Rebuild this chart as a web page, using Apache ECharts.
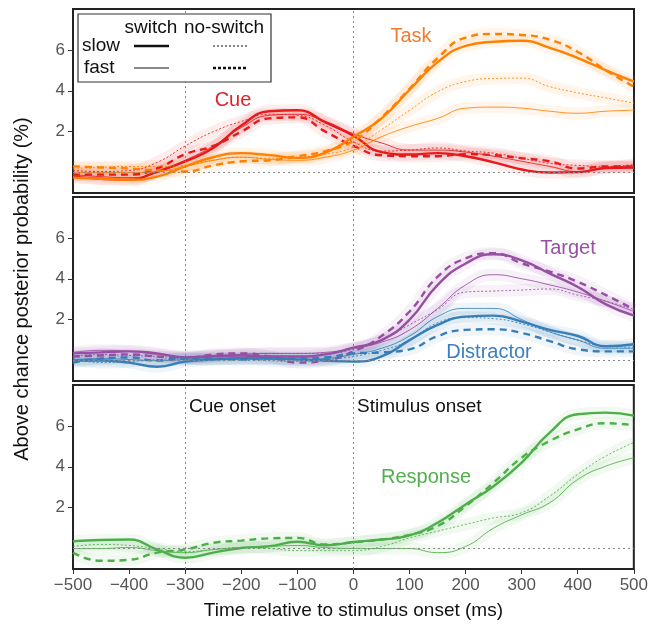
<!DOCTYPE html>
<html><head><meta charset="utf-8">
<script src="https://cdn.jsdelivr.net/npm/echarts@6/dist/echarts.min.js"></script>
<style>html,body{margin:0;padding:0;background:#fff}#c{width:651px;height:625px}</style>
</head><body><div id="c"></div>
<script>
const times = [-500,-450,-400,-350,-300,-250,-200,-150,-100,-50,0,50,100,150,200,250,300,350,400,450,500];
const xTicks = [-500,-400,-300,-200,-100,0,100,200,300,400,500];
const yTicks = [2,4,6];

// Cue
const cueSlowSwitch   = [-0.2,-0.3,-0.35,0.05,0.55,1.2,2.3,3.0,3.05,2.45,1.8,1.0,0.88,0.95,0.8,0.5,0.15,0.0,0.02,0.22,0.25];
const cueFastSwitch   = [-0.1,-0.2,-0.25,0.0,0.6,1.3,2.2,2.8,2.85,2.5,1.9,1.45,1.1,1.1,1.0,0.8,0.55,0.3,0.05,0.25,0.3];
const cueSlowNoSwitch = [0.1,0.05,0.1,0.5,1.3,2.0,2.5,2.85,2.8,2.3,1.5,1.05,1.1,1.2,1.05,0.95,0.7,0.45,0.35,0.3,0.4];
const cueFastNoSwitch = [-0.1,-0.1,-0.1,0.2,0.9,1.3,2.0,2.65,2.7,2.0,1.3,0.85,0.8,0.8,0.9,0.85,0.7,0.55,0.2,0.3,0.3];
// Task
const taskSlowSwitch   = [-0.25,-0.3,-0.35,-0.2,0.3,0.75,0.95,0.85,0.72,0.97,1.75,2.65,4.05,5.4,6.2,6.4,6.45,6.1,5.6,5.0,4.45];
const taskFastSwitch   = [0.0,0.0,0.0,0.05,0.3,0.6,0.75,0.65,0.6,0.75,1.1,1.75,2.25,2.65,3.15,3.2,3.15,3.0,2.9,3.0,3.05];
const taskSlowNoSwitch = [0.2,0.25,0.3,0.3,0.35,0.6,0.75,0.7,0.75,0.9,1.25,2.1,3.05,3.95,4.45,4.6,4.62,4.2,3.9,3.65,3.4];
const taskFastNoSwitch = [0.3,0.25,0.2,0.1,0.05,0.35,0.55,0.6,0.8,1.05,1.55,2.7,4.1,5.6,6.6,6.78,6.73,6.5,5.9,5.0,4.2];
// Target
const targetSlowSwitch   = [0.35,0.4,0.45,0.35,0.15,0.2,0.25,0.2,0.2,0.3,0.63,1.0,2.0,3.7,4.75,5.2,4.9,4.25,3.6,2.75,2.2];
const targetFastSwitch   = [0.4,0.5,0.45,0.3,0.2,0.25,0.3,0.35,0.35,0.4,0.6,0.9,1.5,2.55,3.7,4.2,4.0,3.7,3.35,2.9,2.4];
const targetSlowNoSwitch = [0.2,0.3,0.25,0.2,0.15,0.2,0.3,0.35,0.35,0.35,0.55,1.0,1.75,2.5,3.35,3.4,3.45,3.5,3.2,2.9,2.5];
const targetFastNoSwitch = [0.2,0.25,0.3,0.2,0.1,0.3,0.35,0.2,-0.1,0.0,0.45,1.2,2.4,4.1,5.0,5.25,4.75,4.35,3.85,3.2,2.5];
// Distractor
const distSlowSwitch   = [0.0,0.0,-0.1,-0.3,-0.05,0.05,0.1,0.1,0.05,0.0,-0.05,0.2,1.0,1.75,2.15,2.2,1.9,1.5,1.2,0.7,0.8];
const distFastSwitch   = [0.05,0.1,0.05,0.0,0.05,0.1,0.15,0.1,0.05,0.1,0.3,0.6,1.2,2.15,2.55,2.55,2.0,1.4,1.0,0.6,0.6];
const distSlowNoSwitch = [0.1,-0.1,-0.05,0.05,0.1,0.05,0.1,0.0,-0.05,0.05,0.2,0.5,1.0,1.85,2.1,2.05,1.8,1.4,1.0,0.7,0.65];
const distFastNoSwitch = [-0.1,0.1,0.15,0.0,0.1,0.1,0.05,0.1,0.1,0.15,0.35,0.4,0.55,1.2,1.5,1.53,1.35,0.95,0.55,0.45,0.45];
// Response
const respSlowSwitch   = [0.36,0.42,0.44,-0.05,-0.45,-0.2,0.03,0.11,0.33,0.16,0.32,0.44,0.64,1.26,2.16,3.05,4.2,5.67,6.57,6.65,6.5];
const respFastSwitch   = [0.0,0.0,0.05,-0.1,-0.2,-0.05,0.05,0.1,0.15,0.05,0.0,0.0,0.0,-0.2,0.1,1.0,1.65,2.24,3.38,4.03,4.44];
const respSlowNoSwitch = [0.1,0.2,0.15,0.0,-0.15,-0.05,0.05,0.0,-0.1,-0.1,-0.1,0.1,0.52,0.85,1.18,1.5,1.75,2.56,3.63,4.52,5.18];
const respFastNoSwitch = [-0.2,-0.6,-0.55,-0.2,-0.05,0.28,0.39,0.5,0.52,0.2,0.3,0.44,0.67,1.1,2.07,3.22,4.44,5.26,5.83,6.13,6.03];

const C = {cue:'#e41a1c', task:'#ff7f00', target:'#984ea3', dist:'#377eb8', resp:'#4daf4a'};

const styles = {
  slowSwitch:   {width:2.4, type:'solid', opacity:1},
  fastSwitch:   {width:1,   type:'solid', opacity:0.85},
  slowNoSwitch: {width:1,   type:[2,2], opacity:0.85},
  fastNoSwitch: {width:2.4, type:[7,5], opacity:1}
};

const panels = [
  [[cueSlowSwitch,cueFastSwitch,cueSlowNoSwitch,cueFastNoSwitch,C.cue],
   [taskSlowSwitch,taskFastSwitch,taskSlowNoSwitch,taskFastNoSwitch,C.task]],
  [[targetSlowSwitch,targetFastSwitch,targetSlowNoSwitch,targetFastNoSwitch,C.target],
   [distSlowSwitch,distFastSwitch,distSlowNoSwitch,distFastNoSwitch,C.dist]],
  [[respSlowSwitch,respFastSwitch,respSlowNoSwitch,respFastNoSwitch,C.resp]]
];

const keys = ['slowSwitch','fastSwitch','slowNoSwitch','fastNoSwitch'];
const series = [];
panels.forEach((groups, gi) => {
  series.push({
    type:'line', xAxisIndex:gi, yAxisIndex:gi, data:[], silent:true,
    markLine:{silent:true, symbol:'none', label:{show:false},
      lineStyle:{color:'#888', type:[2,3], width:1},
      data:[{xAxis:-300},{xAxis:0},{yAxis:0}]}
  });
  groups.forEach(g => {
    const color = g[4];
    keys.forEach((k, ki) => {
      const d = times.map((t,i)=>[t,g[ki][i]]);
      series.push({type:'line', xAxisIndex:gi, yAxisIndex:gi, data:d, smooth:0.5, symbol:'none', silent:true,
        lineStyle:{color:color, width:12, opacity:0.08}, z:1});
    });
    keys.forEach((k, ki) => {
      const d = times.map((t,i)=>[t,g[ki][i]]);
      const s = styles[k];
      series.push({type:'line', xAxisIndex:gi, yAxisIndex:gi, data:d, smooth:0.5, symbol:'none',
        lineStyle:{color:color, width:s.width, type:s.type, opacity:s.opacity}, z:3});
    });
  });
});

const F = 'Liberation Sans';
const gridTops = [9,197,385];
const grids = gridTops.map(t => ({left:73, right:17, top:t, height:184, show:true, borderColor:'#222', borderWidth:2, backgroundColor:'#fff'}));
const xAxes = gridTops.map((t,i) => ({
  type:'value', gridIndex:i, min:-500, max:500, interval:100, position:'bottom',
  axisLine:{show:false, onZero:false}, splitLine:{show:false},
  axisTick:{show:i===2, length:5, lineStyle:{color:'#333'}},
  axisLabel:{show:i===2, color:'#555', fontSize:17, fontFamily:F, margin:8,
    formatter:v => (v<0 ? '\u2212'+Math.abs(v) : String(v))},
  name: i===2 ? 'Time relative to stimulus onset (ms)' : '',
  nameLocation:'middle', nameGap:32, nameTextStyle:{color:'#111', fontSize:19, fontFamily:F}
}));
const yAxes = gridTops.map((t,i) => ({
  type:'value', gridIndex:i, min:-1, max:8, position:'left',
  axisLine:{show:false, onZero:false}, splitLine:{show:false},
  axisTick:{show:true, length:5, customValues:yTicks, lineStyle:{color:'#333'}},
  axisLabel:{show:true, customValues:yTicks, color:'#555', fontSize:17, fontFamily:F, margin:8}
}));

const graphic = [
  {type:'text', x:22, y:289, rotation:Math.PI/2, style:{text:'Above chance posterior probability (%)', fill:'#111', font:'20px '+F, textAlign:'center', textVerticalAlign:'middle'}},
  {type:'rect', shape:{x:78,y:14,width:193,height:68}, style:{fill:'#fff', stroke:'#333', lineWidth:1.2}, z:10},
  {type:'text', x:151, y:28, style:{text:'switch', fill:'#111', font:'19px '+F, textAlign:'center', textVerticalAlign:'middle'}, z:11},
  {type:'text', x:224, y:28, style:{text:'no-switch', fill:'#111', font:'19px '+F, textAlign:'center', textVerticalAlign:'middle'}, z:11},
  {type:'text', x:82, y:46, style:{text:'slow', fill:'#111', font:'19px '+F, textAlign:'left', textVerticalAlign:'middle'}, z:11},
  {type:'text', x:84, y:68, style:{text:'fast', fill:'#111', font:'19px '+F, textAlign:'left', textVerticalAlign:'middle'}, z:11},
  {type:'line', shape:{x1:134,y1:46,x2:169,y2:46}, style:{stroke:'#111', lineWidth:2.4}, z:11},
  {type:'line', shape:{x1:134,y1:68,x2:169,y2:68}, style:{stroke:'#111', lineWidth:1}, z:11},
  {type:'line', shape:{x1:213,y1:46,x2:248,y2:46}, style:{stroke:'#111', lineWidth:1, lineDash:[2,2]}, z:11},
  {type:'line', shape:{x1:213,y1:68,x2:248,y2:68}, style:{stroke:'#111', lineWidth:2.4, lineDash:[3,2]}, z:11},
  {type:'text', x:233, y:100, style:{text:'Cue', fill:'#e0242a', font:'20px '+F, textAlign:'center', textVerticalAlign:'middle'}, z:11},
  {type:'text', x:411, y:36, style:{text:'Task', fill:'#f47a30', font:'20px '+F, textAlign:'center', textVerticalAlign:'middle'}, z:11},
  {type:'text', x:568, y:248, style:{text:'Target', fill:'#9b4ea6', font:'20px '+F, textAlign:'center', textVerticalAlign:'middle'}, z:11},
  {type:'text', x:489, y:352, style:{text:'Distractor', fill:'#3a7fbf', font:'20px '+F, textAlign:'center', textVerticalAlign:'middle'}, z:11},
  {type:'text', x:426, y:477, style:{text:'Response', fill:'#4fb04c', font:'20px '+F, textAlign:'center', textVerticalAlign:'middle'}, z:11},
  {type:'text', x:189, y:407, style:{text:'Cue onset', fill:'#111', font:'19px '+F, textAlign:'left', textVerticalAlign:'middle'}, z:11},
  {type:'text', x:357, y:407, style:{text:'Stimulus onset', fill:'#111', font:'19px '+F, textAlign:'left', textVerticalAlign:'middle'}, z:11}
];

const chart = echarts.init(document.getElementById('c'), null, {renderer:'canvas'});
chart.setOption({
  animation:false, backgroundColor:'#fff',
  grid:grids, xAxis:xAxes, yAxis:yAxes, series:series, graphic:graphic
});
</script></body></html>
